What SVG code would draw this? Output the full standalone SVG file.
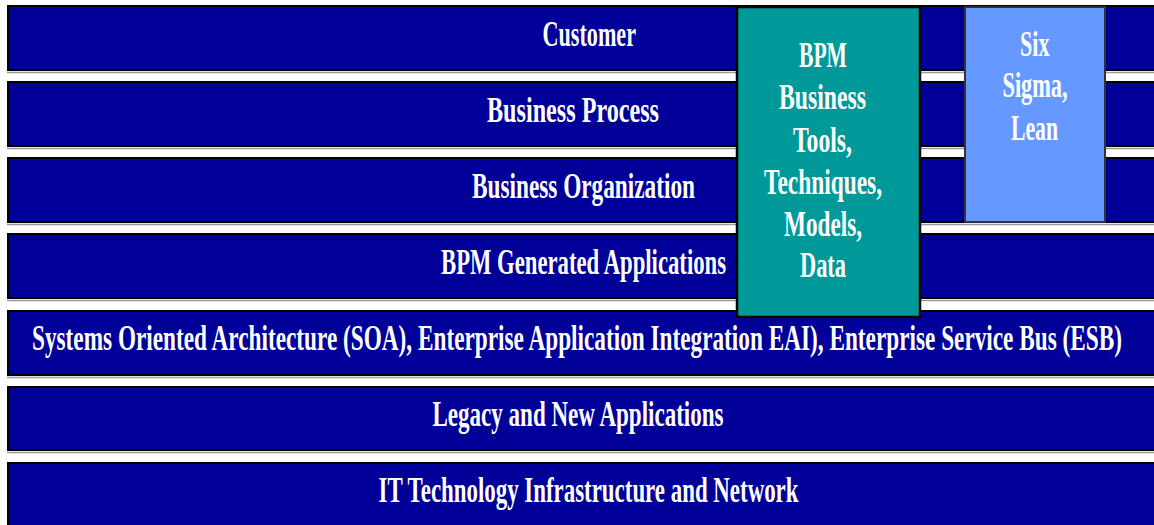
<svg xmlns="http://www.w3.org/2000/svg" width="1154" height="525" viewBox="0 0 1154 525">
<style>
.bar{fill:#000099;stroke:#000;stroke-width:2}
.sh{stroke:#9a9a9a;stroke-width:1.5}
.t{font-family:"Liberation Serif","DejaVu Serif",serif;font-weight:bold;font-size:36px;fill:#fff}
.bpm{fill:#009999;stroke:#000;stroke-width:2.5}
.six{fill:#6699ff;stroke:#333;stroke-width:2}
</style>
<rect width="1154" height="525" fill="#fff"/>
<g id="layer-customer">
<rect class="bar" x="8" y="6" width="1160" height="64"/>
<line class="sh" x1="7" y1="72.5" x2="1154" y2="72.5"/>
<text class="t" x="542.5" y="46" textLength="93.5" lengthAdjust="spacingAndGlyphs">Customer</text>
</g>
<g id="layer-business-process">
<rect class="bar" x="8" y="82" width="1160" height="64"/>
<line class="sh" x1="7" y1="148.5" x2="1154" y2="148.5"/>
<text class="t" x="487" y="122" textLength="172" lengthAdjust="spacingAndGlyphs">Business Process</text>
</g>
<g id="layer-business-organization">
<rect class="bar" x="8" y="158" width="1160" height="64"/>
<line class="sh" x1="7" y1="224.5" x2="1154" y2="224.5"/>
<text class="t" x="472" y="198" textLength="223" lengthAdjust="spacingAndGlyphs">Business Organization</text>
</g>
<g id="layer-bpm-generated">
<rect class="bar" x="8" y="234" width="1160" height="64"/>
<line class="sh" x1="7" y1="300.5" x2="1154" y2="300.5"/>
<text class="t" x="441" y="273.5" textLength="285" lengthAdjust="spacingAndGlyphs">BPM Generated Applications</text>
</g>
<g id="layer-soa">
<rect class="bar" x="8" y="311" width="1160" height="64"/>
<line class="sh" x1="7" y1="377.5" x2="1154" y2="377.5"/>
<text class="t" x="32" y="350" textLength="1090" lengthAdjust="spacingAndGlyphs">Systems Oriented Architecture (SOA), Enterprise Application Integration EAI), Enterprise Service Bus (ESB)</text>
</g>
<g id="layer-legacy">
<rect class="bar" x="8" y="387" width="1160" height="63"/>
<line class="sh" x1="7" y1="452.5" x2="1154" y2="452.5"/>
<text class="t" x="432.5" y="426" textLength="291" lengthAdjust="spacingAndGlyphs">Legacy and New Applications</text>
</g>
<g id="layer-it">
<rect class="bar" x="8" y="463" width="1160" height="80"/>
<text class="t" x="378.5" y="502" textLength="420" lengthAdjust="spacingAndGlyphs">IT Technology Infrastructure and Network</text>
</g>
<g id="bpm-tools">
<rect class="bpm" x="737" y="7" width="183" height="310"/>
<text class="t" x="799" y="67" textLength="48" lengthAdjust="spacingAndGlyphs">BPM</text>
<text class="t" x="779" y="109" textLength="87" lengthAdjust="spacingAndGlyphs">Business</text>
<text class="t" x="793" y="152" textLength="59" lengthAdjust="spacingAndGlyphs">Tools,</text>
<text class="t" x="764" y="193.5" textLength="118" lengthAdjust="spacingAndGlyphs">Techniques,</text>
<text class="t" x="784" y="235.5" textLength="78" lengthAdjust="spacingAndGlyphs">Models,</text>
<text class="t" x="800" y="277" textLength="46" lengthAdjust="spacingAndGlyphs">Data</text>
</g>
<g id="six-sigma">
<rect class="six" x="965" y="7" width="140" height="215"/>
<text class="t" x="1020" y="56" textLength="29.5" lengthAdjust="spacingAndGlyphs">Six</text>
<text class="t" x="1002.5" y="97" textLength="65" lengthAdjust="spacingAndGlyphs">Sigma,</text>
<text class="t" x="1011" y="140" textLength="47" lengthAdjust="spacingAndGlyphs">Lean</text>
</g>
<g id="connectors"></g>
</svg>
